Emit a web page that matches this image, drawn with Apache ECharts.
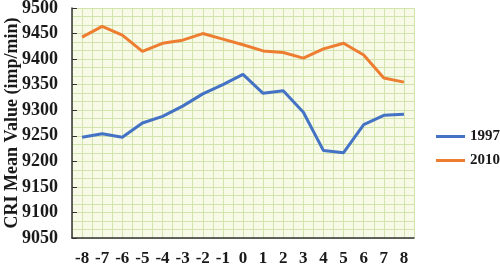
<!DOCTYPE html>
<html><head><meta charset="utf-8">
<script src="https://cdn.jsdelivr.net/npm/echarts@6/dist/echarts.min.js"></script>
<style>html,body{margin:0;padding:0;background:#fff}#c{width:500px;height:265px}</style>
</head><body><div id="c"></div>
<script>
var categories = ['-8','-7','-6','-5','-4','-3','-2','-1','0','1','2','3','4','5','6','7','8'];
var series1997 = [9247,9254,9247,9275,9288,9308,9332,9350,9370,9333,9338,9296,9221,9217,9272,9290,9292];
var series2010 = [9443,9464,9447,9415,9431,9437,9450,9439,9428,9416,9413,9402,9420,9431,9408,9363,9355];
var yTicks = {min: 9050, max: 9500, interval: 50};

var font = '"Liberation Serif", "Times New Roman", serif';
var gridColor = '#d2e3ae';
var chart = echarts.init(document.getElementById('c'), null, {renderer: 'canvas'});
chart.setOption({
  animation: false,
  backgroundColor: '#ffffff',
  textStyle: {fontFamily: font},
  grid: {left: 72, right: 86, top: 8, bottom: 27, show: true, backgroundColor: '#f6fae6', borderWidth: 0,
    outerBoundsMode: 'none', containLabel: false},
  legend: {
    orient: 'vertical', left: 436, top: 129, itemWidth: 29, itemHeight: 3, itemGap: 9, padding: 0,
    icon: 'rect',
    textStyle: {fontFamily: font, fontWeight: 'bold', fontSize: 15, color: '#1a1a1a'},
    data: ['1997','2010']
  },
  xAxis: [{
    type: 'category', data: categories, boundaryGap: true,
    axisLine: {lineStyle: {color: '#333', width: 1.5}},
    axisTick: {inside: true, alignWithLabel: true, length: 5, lineStyle: {color: '#333'}},
    axisLabel: {fontFamily: font, fontWeight: 'bold', fontSize: 17, color: '#1a1a1a', margin: 12},
    splitLine: {show: false}, z: 5
  }, {
    type: 'value', min: -8.5, max: 8.5, interval: 0.5, show: true, position: 'bottom',
    axisLine: {show: false, onZero: false}, axisTick: {show: false}, axisLabel: {show: false},
    splitLine: {show: true, lineStyle: {color: gridColor, width: 1}}
  }],
  yAxis: {
    type: 'value', min: yTicks.min, max: yTicks.max, interval: yTicks.interval,
    name: 'CRI Mean Value (imp/min)', nameLocation: 'middle', nameGap: 51, nameMoveOverlap: false,
    nameTextStyle: {fontFamily: font, fontWeight: 'bold', fontSize: 18, color: '#1a1a1a'},
    axisLine: {show: true, onZero: false, lineStyle: {color: '#333', width: 1.5}},
    axisTick: {show: true, inside: true, length: 5, lineStyle: {color: '#333'}},
    axisLabel: {fontFamily: font, fontWeight: 'bold', fontSize: 18, color: '#1a1a1a', margin: 14,
      formatter: function (v) { return String(v); }},
    splitLine: {show: true, lineStyle: {color: gridColor, width: 1}},
    minorTick: {show: false, splitNumber: 3},
    minorSplitLine: {show: true, lineStyle: {color: gridColor, width: 1}}
  },
  series: [
    {name: '1997', type: 'line', data: series1997, symbol: 'none', lineStyle: {color: '#4472c4', width: 3}, itemStyle: {color: '#4472c4'}, z: 10},
    {name: '2010', type: 'line', data: series2010, symbol: 'none', lineStyle: {color: '#ed7d31', width: 3}, itemStyle: {color: '#ed7d31'}, z: 10}
  ]
});
</script></body></html>
